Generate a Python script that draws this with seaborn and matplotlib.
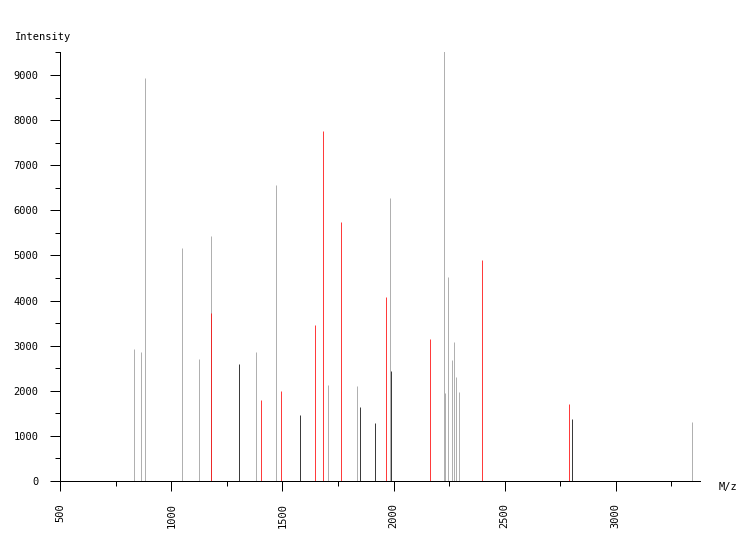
import matplotlib
matplotlib.use("Agg")
import matplotlib.pyplot as plt
import seaborn as sns
import pandas as pd
from matplotlib.ticker import MultipleLocator

# ---- data ----
gray_mz = [833, 865, 883, 1049, 1126, 1180, 1382, 1472, 1706, 1837, 1985,
           2228, 2233, 2246, 2265, 2273, 2282, 2296, 3345]
gray_int = [2926, 2860, 8934, 5165, 2704, 5431, 2860, 6562, 2128, 2106, 6274,
            9532, 1951, 4522, 2682, 3081, 2305, 1973, 1308]
black_mz = [1306, 1580, 1850, 1918, 1990, 2805]
black_int = [2594, 1463, 1640, 1286, 2439, 1374]
red_mz = [1180, 1405, 1495, 1648, 1684, 1765, 1967, 2165, 2400, 2788]
red_int = [3717, 1796, 1995, 3458, 7759, 5742, 4079, 3148, 4899, 1707]

x_ticks = [500, 1000, 1500, 2000, 2500, 3000]
y_ticks = [0, 1000, 2000, 3000, 4000, 5000, 6000, 7000, 8000, 9000]

# ---- build long-form table: each peak is a 2-point vertical segment ----
rows = []
pid = 0
for grp, mzs, ints in (("gray", gray_mz, gray_int),
                       ("black", black_mz, black_int),
                       ("red", red_mz, red_int)):
    for m, v in zip(mzs, ints):
        rows.append({"mz": m, "intensity": 0, "group": grp, "peak": pid})
        rows.append({"mz": m, "intensity": v, "group": grp, "peak": pid})
        pid += 1
df = pd.DataFrame(rows)

sns.set_style("ticks")
plt.rcParams["font.family"] = ["DejaVu Sans Mono", "DejaVu Sans"]

fig = plt.figure(figsize=(7.5, 5.4), dpi=100)
ax = fig.add_axes([60.3 / 750, 1 - 481 / 540, (700 - 60.3) / 750, (481 - 51.5) / 540])

palette = {"gray": "#999999", "black": "#000000", "red": "#ff0000"}
sns.lineplot(data=df, x="mz", y="intensity", hue="group", units="peak",
             estimator=None, sort=False, palette=palette,
             hue_order=["gray", "black", "red"], legend=False,
             linewidth=0.55, solid_capstyle="butt", ax=ax)

ax.set_xlim(500, 3379)
ax.set_ylim(0, 9520)
ax.set_xticks(x_ticks)
ax.set_xticklabels([str(t) for t in x_ticks], rotation=90)
ax.set_yticks(y_ticks)
ax.set_yticklabels([str(t) for t in y_ticks])
ax.xaxis.set_minor_locator(MultipleLocator(250))
ax.yaxis.set_minor_locator(MultipleLocator(500))

for s in ("top", "right"):
    ax.spines[s].set_visible(False)
for s in ("left", "bottom"):
    ax.spines[s].set_linewidth(0.72)
    ax.spines[s].set_color("black")

ax.tick_params(axis="both", which="major", length=7.2, width=0.72, color="black",
               labelsize=7.5, labelcolor="black")
ax.tick_params(axis="both", which="minor", length=3.6, width=0.72, color="black")
ax.tick_params(axis="y", which="major", pad=8.5)
ax.tick_params(axis="x", which="major", pad=9)
ax.set_xlabel("")
ax.set_ylabel("")

fig.text(15 / 750, 1 - 37 / 540, "Intensity", ha="left", va="center",
         fontsize=7.5, color="black")
fig.text(719 / 750, 1 - 487 / 540, "M/z", ha="left", va="center",
         fontsize=7.5, color="black")

fig.savefig("out.png", dpi=100, facecolor="white")
